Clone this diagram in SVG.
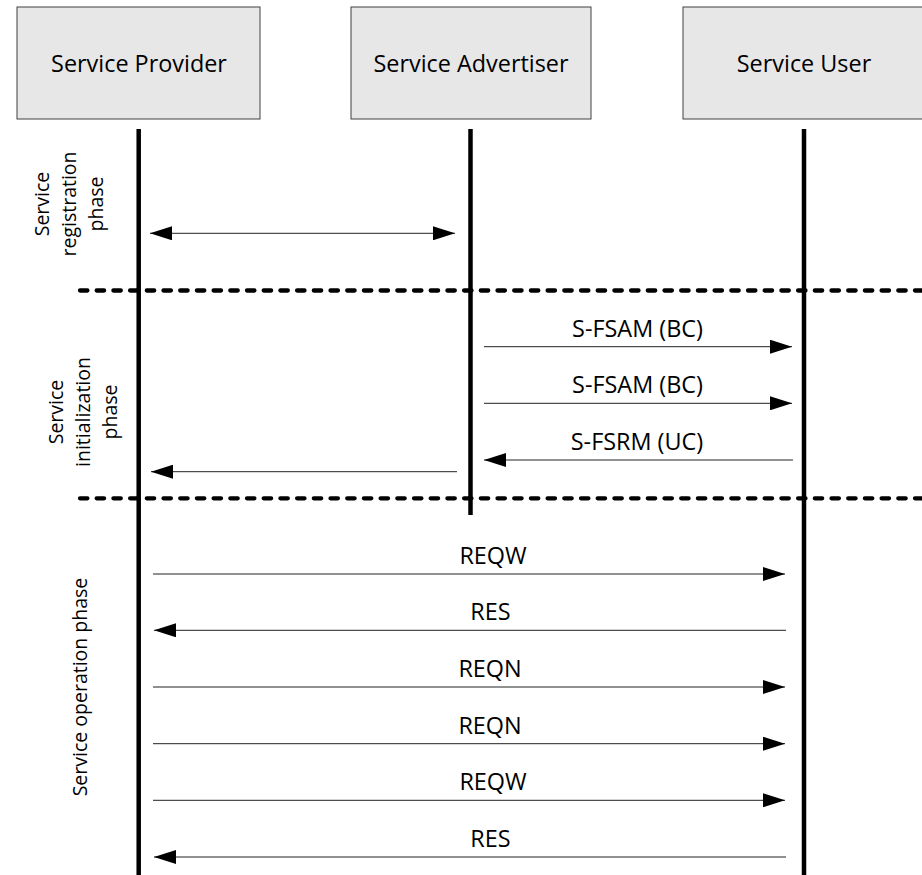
<svg xmlns="http://www.w3.org/2000/svg" width="922" height="875" viewBox="0 0 922 875">
  <style>
    .box { fill: #e7e7e7; stroke: #404040; stroke-width: 1; }
    .label { font-family: "Open Sans", "Liberation Sans", sans-serif; font-size: 23.4px; fill: #000; text-anchor: middle; }
    .phase { font-family: "Open Sans", "Liberation Sans", sans-serif; font-size: 19.5px; fill: #000; text-anchor: middle; }
    .lifeline { stroke: #000; stroke-width: 4.5; }
    .divider { stroke: #000; stroke-width: 4.3; stroke-dasharray: 7.4 9.3; stroke-linecap: round; fill: none; }
    .msg { stroke: #222; stroke-width: 1; fill: none; marker-end: url(#head); }
    .both { marker-start: url(#head); }
  </style>
  <defs>
    <marker id="head" markerUnits="userSpaceOnUse" markerWidth="22" markerHeight="14" refX="22" refY="7" orient="auto-start-reverse" viewBox="0 0 22 14">
      <path d="M0,0 L22,7 L0,14 Z" fill="#000"/>
    </marker>
  </defs>

  <!-- participants -->
  <g id="service-provider">
    <rect class="box" x="17" y="7" width="243" height="112"/>
    <text class="label" x="139" y="72">Service Provider</text>
  </g>
  <g id="service-advertiser">
    <rect class="box" x="351" y="7" width="240" height="112"/>
    <text class="label" x="471" y="72">Service Advertiser</text>
  </g>
  <g id="service-user">
    <rect class="box" x="683" y="7" width="243" height="112"/>
    <text class="label" x="804" y="72">Service User</text>
  </g>

  <!-- lifelines -->
  <g id="lifelines">
    <line class="lifeline" x1="138.7" y1="129" x2="138.7" y2="875"/>
    <line class="lifeline" x1="470.5" y1="129" x2="470.5" y2="515"/>
    <line class="lifeline" x1="804" y1="129" x2="804" y2="875"/>
  </g>

  <!-- phase dividers -->
  <g id="dividers">
    <line class="divider" x1="80" y1="290.5" x2="924" y2="290.5"/>
    <line class="divider" x1="80" y1="498.3" x2="924" y2="498.3"/>
  </g>

  <!-- phase labels -->
  <g id="phase-labels">
    <g transform="translate(0,204) rotate(-90)">
      <text class="phase" x="0" y="48.5">Service</text>
      <text class="phase" x="0" y="75.5">registration</text>
      <text class="phase" x="0" y="102.5">phase</text>
    </g>
    <g transform="translate(0,412) rotate(-90)">
      <text class="phase" x="0" y="63">Service</text>
      <text class="phase" x="0" y="90">initialization</text>
      <text class="phase" x="0" y="117">phase</text>
    </g>
    <g transform="translate(0,687) rotate(-90)">
      <text class="phase" x="0" y="87">Service operation phase</text>
    </g>
  </g>

  <!-- messages -->
  <g id="connectors">
    <line class="msg both" x1="150" y1="233.3" x2="455" y2="233.3"/>
    <line class="msg" x1="484" y1="346.7" x2="792" y2="346.7"/>
    <line class="msg" x1="484" y1="403.3" x2="792" y2="403.3"/>
    <line class="msg" x1="793" y1="460" x2="484" y2="460"/>
    <line class="msg" x1="457" y1="471.7" x2="151" y2="471.7"/>
    <line class="msg" x1="153" y1="574" x2="785" y2="574"/>
    <line class="msg" x1="786" y1="630.3" x2="154" y2="630.3"/>
    <line class="msg" x1="153" y1="687" x2="785" y2="687"/>
    <line class="msg" x1="153" y1="743.7" x2="785" y2="743.7"/>
    <line class="msg" x1="153" y1="800.3" x2="785" y2="800.3"/>
    <line class="msg" x1="786" y1="857" x2="154" y2="857"/>
  </g>

  <!-- message labels -->
  <g id="message-labels">
    <text class="label" x="637.5" y="336.7">S-FSAM (BC)</text>
    <text class="label" x="637.5" y="393">S-FSAM (BC)</text>
    <text class="label" x="637" y="450">S-FSRM (UC)</text>
    <text class="label" x="493" y="563.5">REQW</text>
    <text class="label" x="490.5" y="620">RES</text>
    <text class="label" x="490" y="677">REQN</text>
    <text class="label" x="490" y="733.5">REQN</text>
    <text class="label" x="493" y="790">REQW</text>
    <text class="label" x="490.5" y="847">RES</text>
  </g>
</svg>
